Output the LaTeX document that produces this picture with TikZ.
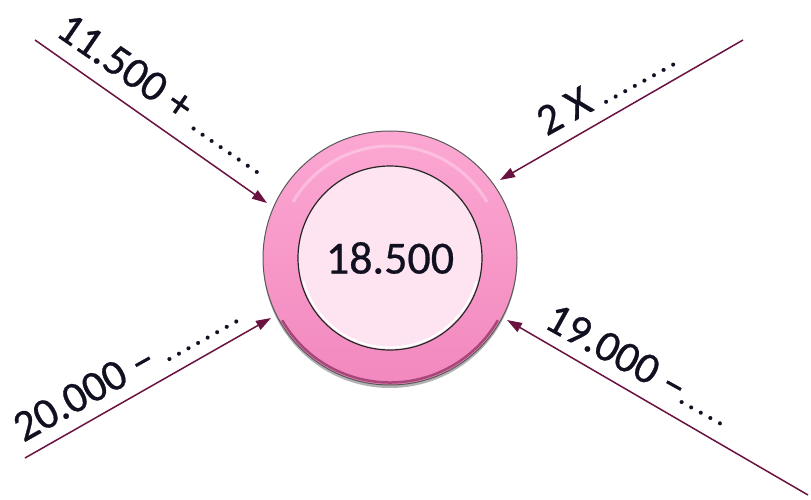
\documentclass[tikz,border=0pt]{standalone}
\usepackage{fontspec}
\setmainfont{Carlito}
\newfontfamily\lblfont{Carlito}[FakeBold=0.6]
\usetikzlibrary{arrows.meta}
\definecolor{arr}{HTML}{6A1240}
\definecolor{ringtop}{HTML}{FCA8D3}
\definecolor{ringbot}{HTML}{F288BE}
\definecolor{innerfill}{HTML}{FEE3F0}
\definecolor{txt}{HTML}{101020}
\newcommand\dd{{\fontsize{30}{30}\selectfont.}\kern 3.4pt}
\begin{document}
\begin{tikzpicture}[x=1pt,y=-1pt,
  conn/.style={draw=arr, line width=1.5pt, -{Triangle[length=15pt,width=10pt]}},
  lbl/.style={inner sep=0pt, anchor=base, text=txt, font=\lblfont\fontsize{44}{50}\selectfont}]
\useasboundingbox (0,0) rectangle (811,500);
\fill[white] (0,0) rectangle (811,500);
% shadow
\fill[black!30] (390,261) circle (127);
% outer ring
\node[circle, minimum size=254pt, inner sep=0pt, top color=ringtop, bottom color=ringbot, draw=black!65, line width=1pt] (ring) at (390,258) {};
\draw[white, opacity=0.3, line width=3pt] (390,258) ++(-150:112) arc (-150:-30:112);
\draw[arr!55!ringbot, line width=2.5pt] (390,258) ++(150:124.5) arc (150:30:124.5);
% inner disk
\node[circle, minimum size=184pt, inner sep=0pt, fill=innerfill, draw=black!85, line width=1.2pt, text=txt, font=\lblfont\fontsize{46}{50}\selectfont] (core) at (390,258) {18.500};
\draw[white, line width=2pt] (390,258) ++(165:89.5) arc (165:15:89.5);
% connector endpoints
\coordinate (s1) at (35,40);   \coordinate (t1) at (267,203);
\coordinate (s2) at (743,40);  \coordinate (t2) at (500,180);
\coordinate (s3) at (25,458);  \coordinate (t3) at (271,318);
\coordinate (s4) at (808,495); \coordinate (t4) at (507,320);
\draw[conn] (s1) -- (t1);
\draw[conn] (s2) -- (t2);
\draw[conn] (s3) -- (t3);
\draw[conn] (s4) -- (t4);
% labels
\node[lbl, rotate=-34.5] (l1) at (158,106) {11.500 + \dd\dd\dd\dd\dd\dd\dd\dd};
\node[lbl, rotate=29]    (l2) at (613.5,99.5)  {2 X \dd\dd\dd\dd\dd\dd\dd\dd};
\node[lbl, rotate=29.3]  (l3) at (133.5,381)   {20.000 – \dd\dd\dd\dd\dd\dd\dd\dd};
\node[lbl, rotate=-29]   (l4) at (634,377.5)   {19.000 –\dd\dd\dd\dd\dd};
\end{tikzpicture}
\end{document}
